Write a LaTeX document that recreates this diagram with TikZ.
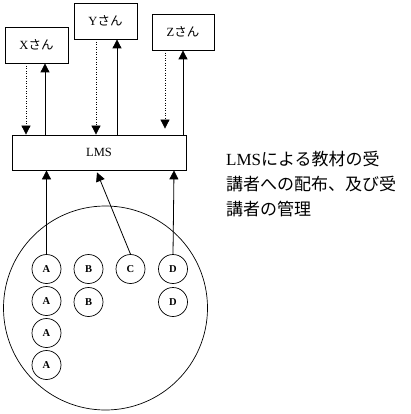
\documentclass[tikz,border=0pt]{standalone}
\usepackage{fontspec}
\setmainfont{Liberation Serif}
\newfontfamily\cjk{Noto Sans CJK JP}
\usetikzlibrary{arrows.meta}
\tikzset{
  box/.style={draw, line width=0.8pt, inner sep=0pt, minimum height=36pt, font=\fontsize{12.5}{14}\selectfont},
  tip/.style={-{Triangle[width=9pt,length=9pt]}},
  solidarr/.style={tip, line width=0.8pt},
  dotarr/.style={tip, line width=0.8pt, dash pattern=on 1pt off 1.5pt},
  person/.style={draw, circle, line width=0.7pt, minimum size=29pt, inner sep=0pt, font=\fontsize{10.5}{12}\selectfont\bfseries},
}
\begin{document}
\begin{tikzpicture}[x=1pt,y=-1pt]
\useasboundingbox (0,0) rectangle (411,414);
\node[box, minimum width=63pt] (xb) at (36.5,45) {X{\cjk さん}};
\node[box, minimum width=63pt] (yb) at (105.5,21) {Y{\cjk さん}};
\node[box, minimum width=62pt] (zb) at (183,32) {Z{\cjk さん}};
\node[box, minimum width=174pt, minimum height=35pt] (lms) at (99,152.5) {LMS};

\node[draw, circle, line width=0.7pt, minimum size=204pt, inner sep=0pt] (pool) at (105.5,308) {};
\node[person] (a1) at (46.5,269) {A};
\node[person] (a2) at (46.5,301) {A};
\node[person] (a3) at (46.5,333) {A};
\node[person] (a4) at (46.5,365) {A};
\node[person] (b1) at (88.5,269) {B};
\node[person] (b2) at (88.5,302) {B};
\node[person] (c1) at (130.5,269) {C};
\node[person] (d1) at (173,269) {D};
\node[person] (d2) at (173,302) {D};

% X
\draw[dotarr] ([xshift=-10.5pt]xb.south) -- ([xshift=-73pt]lms.north);
\draw[solidarr] ([xshift=-54pt]lms.north) -- ([xshift=8.5pt]xb.south);
% Y
\draw[dotarr] ([xshift=-9.5pt]yb.south) -- ([xshift=-3pt]lms.north);
\draw[solidarr] ([xshift=18pt]lms.north) -- ([xshift=11.5pt]yb.south);
% Z
\draw[dotarr] ([xshift=-18pt]zb.south) -- ([xshift=66pt,yshift=6pt]lms.north);
\draw[solidarr] ([xshift=84pt]lms.north) -- ([xshift=0pt]zb.south);
% from learners
\draw[solidarr] (a1.north) -- ([xshift=-52.5pt]lms.south);
\draw[solidarr] (c1.north) -- ([xshift=-2pt,yshift=-2pt]lms.south);
\draw[solidarr] (d1.north) -- ([xshift=75pt]lms.south);

\node[anchor=north west, align=left, inner sep=0pt,
      font=\fontsize{17}{25}\selectfont] (desc) at (226,151)
  {LMS{\cjk による教材の受}\\{\cjk 講者への配布、及び受}\\{\cjk 講者の管理}};
\end{tikzpicture}
\end{document}
